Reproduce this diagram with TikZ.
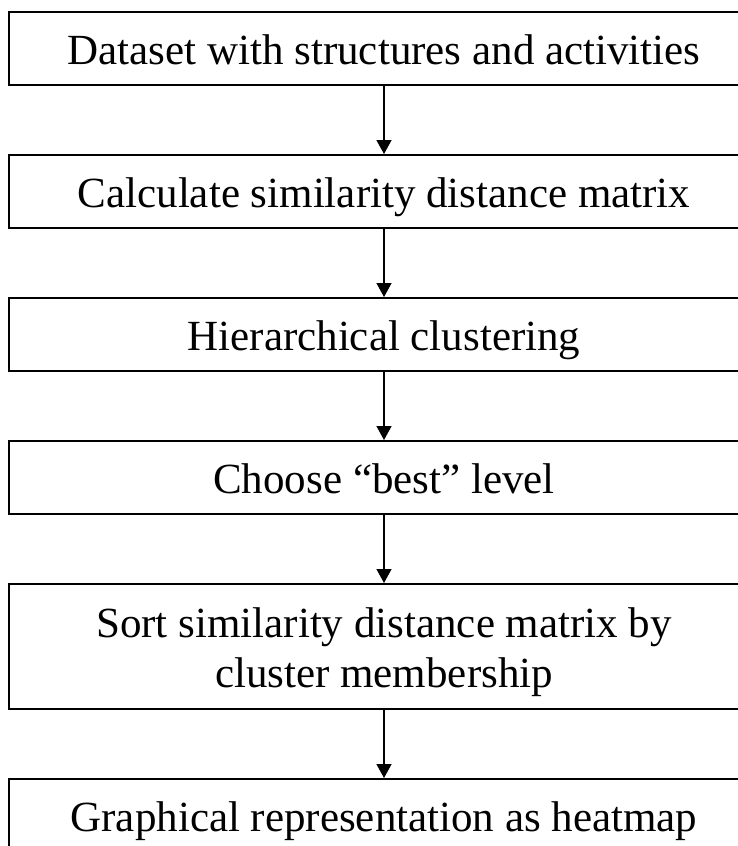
\documentclass[tikz,border=0pt]{standalone}
\usepackage{fontspec}
\setmainfont{Liberation Serif}
\usetikzlibrary{arrows.meta,positioning}
\tikzset{
  stepbox/.style={draw=black, line width=2pt, minimum width=750pt, minimum height=73pt, inner ysep=21pt, text height=31pt, text depth=0pt, align=center, font=\fontsize{43}{50}\selectfont},
  arr/.style={-{Triangle[length=14pt,width=15pt]}, line width=1.3pt, draw=black}
}
\begin{document}
\begin{tikzpicture}[x=1pt,y=1pt,node distance=68pt]
\clip (0,0) rectangle (738,-846);
\node[stepbox] (data) at (384,-48.5) {Dataset with structures and activities};
\node[stepbox,below=of data] (simil) {Calculate similarity distance matrix};
\node[stepbox,below=of simil] (hier) {Hierarchical clustering};
\node[stepbox,below=of hier] (level) {Choose ``best'' level};
\node[stepbox,below=of level,minimum height=125pt,text height=81pt] (sort) {Sort similarity distance matrix by\\cluster membership};
\node[stepbox,below=of sort] (heat) {Graphical representation as heatmap};
\draw[arr] (data) -- (simil);
\draw[arr] (simil) -- (hier);
\draw[arr] (hier) -- (level);
\draw[arr] (level) -- (sort);
\draw[arr] (sort) -- (heat);
\end{tikzpicture}
\end{document}
